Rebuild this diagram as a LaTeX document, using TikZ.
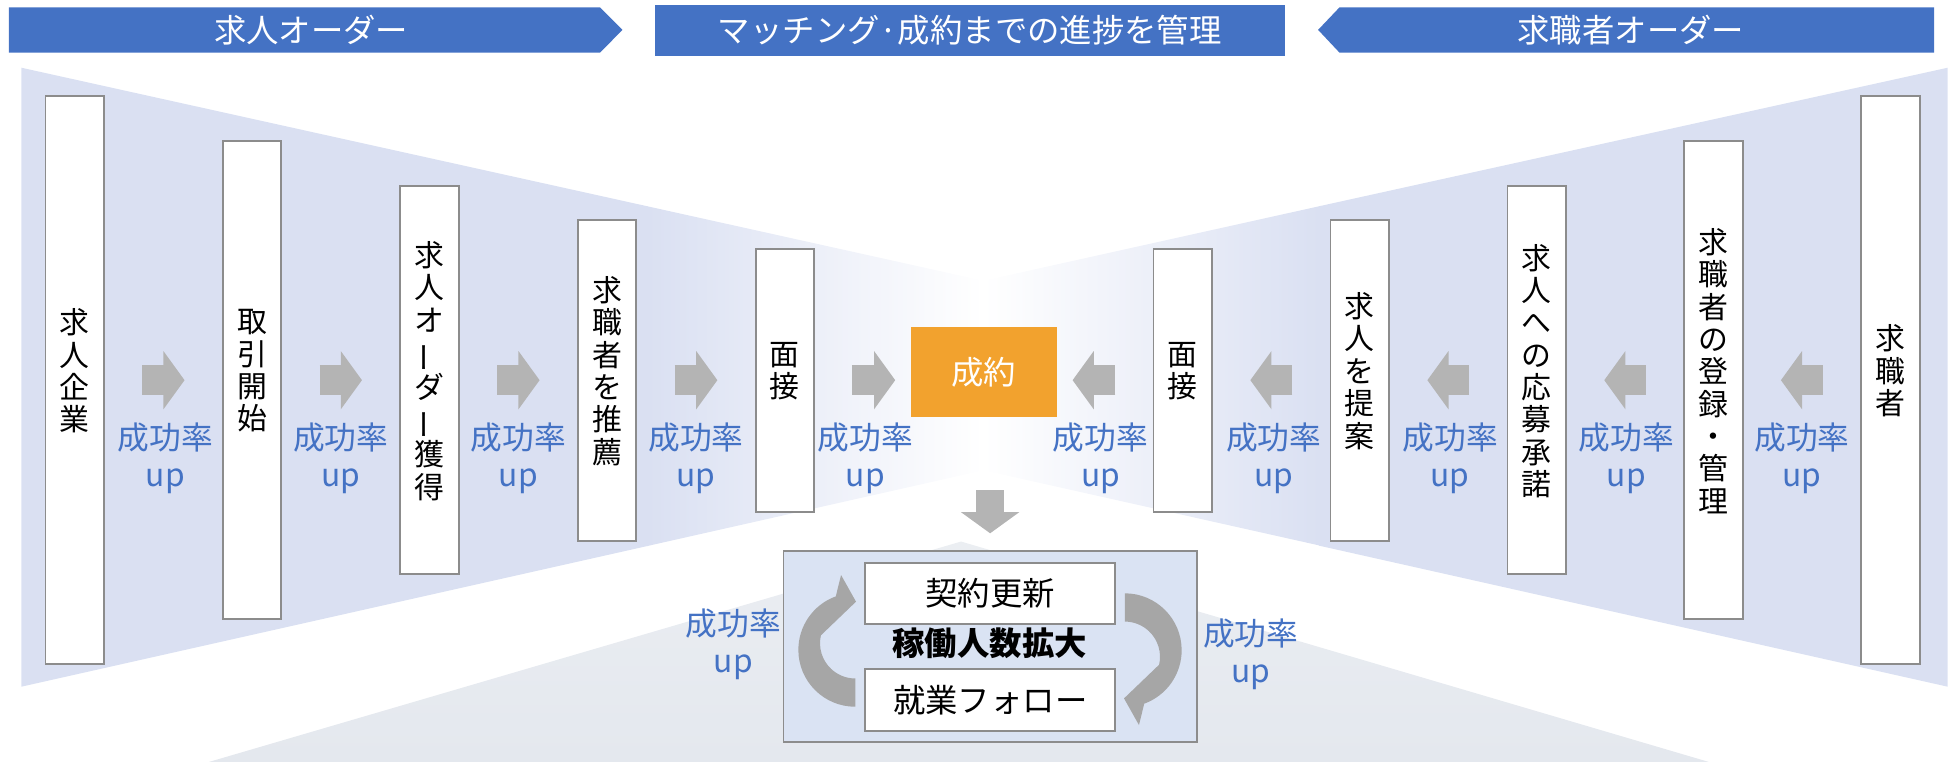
\documentclass[tikz,border=0pt]{standalone}
\usepackage{fontspec}
\setmainfont{Noto Sans CJK JP}
\usetikzlibrary{arrows.meta,calc,positioning}

\definecolor{hdrblue}{HTML}{4472C4}
\definecolor{funnelblue}{HTML}{DAE0F2}
\definecolor{loopblue}{HTML}{DAE3F3}
\definecolor{floorgray}{HTML}{E4E8EE}
\definecolor{edgegray}{HTML}{8C8C8C}
\definecolor{blockgray}{HTML}{B4B4B4}
\definecolor{curvegray}{HTML}{A6A6A6}
\definecolor{dealorange}{HTML}{F2A22E}

% long vowel mark set upright in vertical text
\newcommand\tatebar{\rotatebox[origin=c]{90}{ー}}

\tikzset{
  stagebox/.style={draw=edgegray, line width=1.5pt, fill=white, minimum width=47pt, inner sep=0pt},
  tatetext/.style={font=\fontsize{24}{26}\selectfont, align=center, inner sep=0pt},
  ratelabel/.style={font=\fontsize{25.5}{29.5}\selectfont, text=hdrblue, align=center, inner sep=0pt},
  hdrtext/.style={font=\fontsize{26}{28}\selectfont, text=white, inner sep=0pt},
  blockarrow/.style={line width=24pt, blockgray, -{Triangle[width=46pt,length=17pt]}},
  loopturn/.pic={
    \fill[curvegray] (0,45.7) arc[start angle=90, end angle=250, radius=45.7]
      -- (-11.4,-60.1) -- (0.6,-38.7) -- ($(0,-5.3)+(193:28.3)$)
      arc[start angle=193, end angle=90, radius=28.3] -- cycle;
  }
}

\begin{document}
\begin{tikzpicture}[x=1pt, y=-1pt]
  \useasboundingbox (0,0) rectangle (1568,612);
  % background
  \shade[top color=floorgray!75, bottom color=floorgray] (168,612) -- (772,435) -- (1372.5,612) -- cycle;
  \fill[funnelblue] (17.2,54.4) -- (520.5,165.8) -- (520.5,438.5) -- (17.2,551.6) -- cycle;
  \shade[left color=funnelblue, right color=white] (520,165.7) -- (790,225.5) -- (790,377.8) -- (520,438.6) -- cycle;
  \fill[funnelblue] (1564.5,54.4) -- (1059.5,165.7) -- (1059.5,438.3) -- (1564.5,551.6) -- cycle;
  \shade[left color=white, right color=funnelblue] (790,225.5) -- (1060,165.6) -- (1060,438.2) -- (790,377.8) -- cycle;

  % headers
  \fill[hdrblue] (7.2,5.9) -- (482,5.9) -- (500,24) -- (482,42.3) -- (7.2,42.3) -- cycle;
  \node[hdrtext] (jobhdr) at (250,24) {求人オーダー};
  \node[hdrtext, fill=hdrblue, minimum width=506pt, minimum height=40.7pt] (midhdr) at (779,24.35) {マッチング·成約までの進捗を管理};
  \fill[hdrblue] (1553.6,5.9) -- (1076,5.9) -- (1058.8,24) -- (1076,42.3) -- (1553.6,42.3) -- cycle;
  \node[hdrtext] (seekhdr) at (1310,24) {求職者オーダー};

  % left side
  \node[stagebox, minimum height=456.6pt] (b1) at (60,305.4) {};
  \node[stagebox, minimum height=384.2pt] (b2) at (202.5,305.4) {};
  \node[stagebox, minimum height=311.7pt] (b3) at (345,305.4) {};
  \node[stagebox, minimum height=257.8pt] (b4) at (487.7,305.4) {};
  \node[stagebox, minimum height=211.2pt] (b5) at (630.5,305.4) {};
  \node[tatetext] (t1) at ([yshift=7.4pt]b1.center) {求\\人\\企\\業};
  \node[tatetext] (t2) at ([yshift=7.4pt]b2.center) {取\\引\\開\\始};
  \node[tatetext] (t3) at ([yshift=7.4pt]b3.center) {求\\人\\オ\\\tatebar\\ダ\\\tatebar\\獲\\得};
  \node[tatetext] (t4) at ([yshift=7.4pt]b4.center) {求\\職\\者\\を\\推\\薦};
  \node[tatetext] (t5) at ([yshift=7.4pt]b5.center) {面\\接};

  % right side
  \node[stagebox, minimum height=211.2pt] (b6) at (950.1,305.4) {};
  \node[stagebox, minimum height=257.8pt] (b7) at (1092.3,305.4) {};
  \node[stagebox, minimum height=311.7pt] (b8) at (1234.4,305.4) {};
  \node[stagebox, minimum height=384.2pt] (b9) at (1376.3,305.4) {};
  \node[stagebox, minimum height=456.6pt] (b10) at (1518.5,305.4) {};
  \node[tatetext] (t6) at ([yshift=7.4pt]b6.center) {面\\接};
  \node[tatetext] (t7) at ([yshift=7.4pt]b7.center) {求\\人\\を\\提\\案};
  \node[tatetext] (t8) at ([yshift=7.4pt]b8.center) {求\\人\\へ\\の\\応\\募\\承\\諾};
  \node[tatetext] (t9) at ([yshift=7.4pt]b9.center) {求\\職\\者\\の\\登\\録\\・\\管\\理};
  \node[tatetext] (t10) at ([yshift=7.4pt]b10.center) {求\\職\\者};

  % deal
  \node[fill=dealorange, minimum width=117.3pt, minimum height=72pt, text=white,
        font=\fontsize{26}{28}\selectfont] (deal) at (790.35,298.7) {成約};

  % block arrows
  \draw[blockarrow, shorten <=30pt, shorten >=30pt] (b1) -- (b2);
  \draw[blockarrow, shorten <=30pt, shorten >=30pt] (b2) -- (b3);
  \draw[blockarrow, shorten <=30pt, shorten >=30pt] (b3) -- (b4);
  \draw[blockarrow, shorten <=30pt, shorten >=30pt] (b4) -- (b5);
  \draw[blockarrow, shorten <=29.5pt, shorten >=12.4pt] (b5) -- (b5 -| deal.west);
  \draw[blockarrow, shorten <=30pt, shorten >=12.4pt] (b6) -- (b6 -| deal.east);
  \draw[blockarrow, shorten <=30pt, shorten >=30pt] (b7) -- (b6);
  \draw[blockarrow, shorten <=30pt, shorten >=30pt] (b8) -- (b7);
  \draw[blockarrow, shorten <=30pt, shorten >=30pt] (b9) -- (b8);
  \draw[blockarrow, shorten <=30pt, shorten >=30pt] (b10) -- (b9);

  % rate labels
  \node[ratelabel] (r1) at ($(b1.east)!.5!(b2.west)+(1.5,62.8)$) {成功率\\up};
  \node[ratelabel] (r2) at ($(b2.east)!.5!(b3.west)+(0,62.8)$) {成功率\\up};
  \node[ratelabel] (r3) at ($(b3.east)!.5!(b4.west)+(0,62.8)$) {成功率\\up};
  \node[ratelabel] (r4) at ($(b4.east)!.5!(b5.west)+(0,62.8)$) {成功率\\up};
  \node[ratelabel] (r5) at ($(b5.east)!.5!(deal.west |- b5)+(2,62.8)$) {成功率\\up};
  \node[ratelabel] (r6) at ($(deal.east |- b6)!.5!(b6.west)+(-3.5,62.8)$) {成功率\\up};
  \node[ratelabel] (r7) at ($(b6.east)!.5!(b7.west)+(2,62.8)$) {成功率\\up};
  \node[ratelabel] (r8) at ($(b7.east)!.5!(b8.west)+(1.5,62.8)$) {成功率\\up};
  \node[ratelabel] (r9) at ($(b8.east)!.5!(b9.west)+(1,62.8)$) {成功率\\up};
  \node[ratelabel] (r10) at ($(b9.east)!.5!(b10.west)+(0,62.8)$) {成功率\\up};

  % loop box
  \node[draw=edgegray, line width=1.5pt, fill=loopblue, minimum width=332pt, minimum height=153.7pt] (loop) at (795.35,519.3) {};
  \node[stagebox, minimum width=201pt, minimum height=48.8pt, font=\fontsize{26}{28}\selectfont] (renew) at (795.45,476.9) {契約更新};
  \node[stagebox, minimum width=201pt, minimum height=49.3pt, font=\fontsize{26}{28}\selectfont] (follow) at (795.45,562.35) {就業フォロー};
  \node[font=\bfseries\fontsize{26}{28}\selectfont, inner sep=0pt] (grow) at (795,516.8) {稼働人数拡大};
  \pic at (687,522) {loopturn};
  \pic[rotate=180] at (903.5,522.3) {loopturn};
  \draw[blockarrow, line width=22.4pt, shorten <=58.9pt, shorten >=13.3pt] (deal.south -| loop.north) -- (loop.north);
  \node[ratelabel] (r11) at ($(loop.west)+(-39.5,-2)$) {成功率\\up};
  \node[ratelabel] (r12) at ($(loop.east)+(42.6,6)$) {成功率\\up};
\end{tikzpicture}
\end{document}
